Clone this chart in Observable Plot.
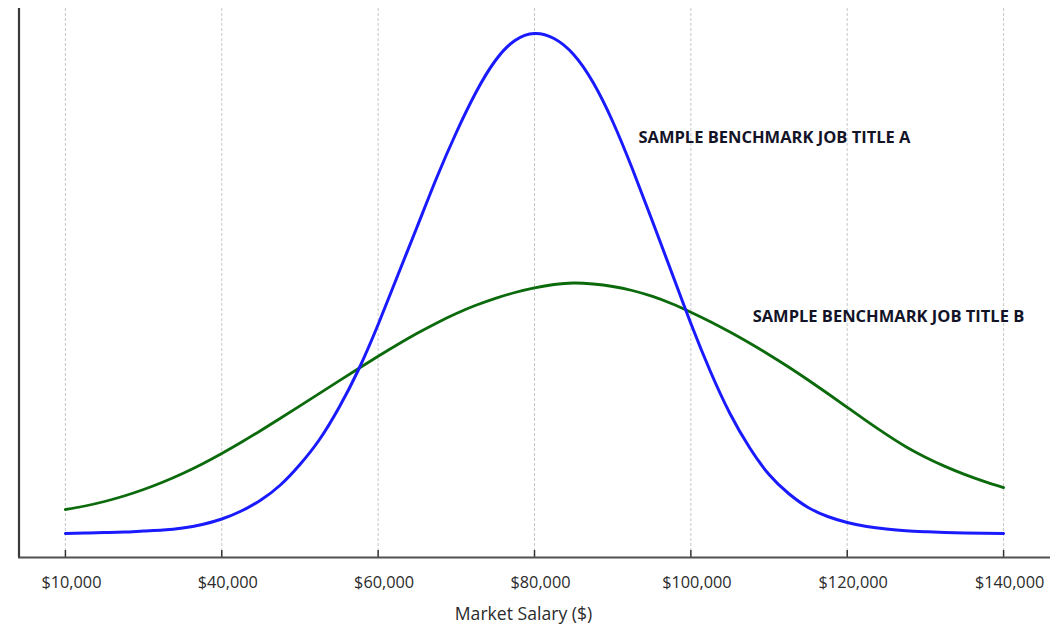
<!DOCTYPE html>
<html>
<head>
<meta charset="utf-8">
<script src="https://cdn.jsdelivr.net/npm/d3@7"></script>
<script src="https://cdn.jsdelivr.net/npm/@observablehq/plot@0.6"></script>
<style>
  html, body { margin: 0; padding: 0; background: #fff; }
  #chart { width: 1054px; height: 625px; }
</style>
</head>
<body>
<div id="chart"></div>
<script>
// x positions are tick indices (0..6); y is relative frequency (arbitrary units)
const tickIndex = [0, 1, 2, 3, 4, 5, 6];
const tickLabels = ["$10,000", "$40,000", "$60,000", "$80,000", "$100,000", "$120,000", "$140,000"];

const sampleX = [0, 0.125, 0.25, 0.375, 0.5, 0.625, 0.75, 0.875,
  1, 1.125, 1.25, 1.375, 1.5, 1.625, 1.75, 1.875,
  2, 2.125, 2.25, 2.375, 2.5, 2.625, 2.75, 2.875,
  3, 3.125, 3.25, 3.375, 3.5, 3.625, 3.75, 3.875,
  4, 4.125, 4.25, 4.375, 4.5, 4.625, 4.75, 4.875,
  5, 5.125, 5.25, 5.375, 5.5, 5.625, 5.75, 5.875, 6];

const blueY = [24, 24.5, 25, 25.5, 26.5, 27.5, 29.5, 33,
  38.5, 46.5, 57.5, 72.5, 93, 118, 150, 188,
  233, 282, 331, 380, 425, 465, 497, 517,
  524, 519, 503, 475, 436, 389, 338, 286,
  234, 186, 144, 110, 83, 64, 50, 41,
  35, 31, 28.5, 26.8, 25.8, 25, 24.5, 24.2, 24];

const greenY = [48, 51.5, 56, 61.5, 68, 75.5, 84, 93.5,
  104, 115.2, 127, 139.2, 151.6, 164.1, 176.6, 189,
  201.2, 213, 224.2, 234.6, 244, 252.2, 259.2, 265,
  269.6, 273, 274.5, 273.5, 271, 267, 261.3, 254,
  245.3, 235.8, 225.5, 214.5, 202.8, 190.5, 177.5, 164,
  150.2, 136.4, 123.1, 110.8, 100.3, 91.1, 83.1, 76.1, 69.9];

const seriesNames = ["SAMPLE BENCHMARK JOB TITLE A", "SAMPLE BENCHMARK JOB TITLE B"];
const seriesColors = ["#1a1aff", "#0b6a0b"];
const labelX = [3.665, 4.395];
const labelY = [420, 241];

const xDomain = [-0.3, 6.3];
const yDomain = [0, 549];

const blue = sampleX.map((x, i) => ({x, y: blueY[i]}));
const green = sampleX.map((x, i) => ({x, y: greenY[i]}));
const labels = seriesNames.map((name, i) => ({name, x: labelX[i], y: labelY[i]}));

const chart = Plot.plot({
  width: 1054,
  height: 625,
  marginLeft: 18,
  marginRight: 4,
  marginTop: 8,
  marginBottom: 68,
  style: {fontFamily: "'Open Sans', sans-serif", background: "#fff"},
  x: {domain: xDomain, axis: null},
  y: {domain: yDomain, axis: null},
  marks: [
    Plot.gridX(tickIndex, {stroke: "#9a9a9a", strokeOpacity: 0.55, strokeDasharray: "3,2", insetBottom: 7}),
    Plot.ruleX(tickIndex, {stroke: "#333", strokeWidth: 1.5, insetTop: 542}),
    Plot.ruleY([0], {stroke: "#505050", strokeWidth: 2.2}),
    Plot.ruleX([xDomain[0]], {stroke: "#3a3a3a", strokeWidth: 2.2, dx: 0.5}),
    Plot.text(tickIndex, {x: d => d, text: d => tickLabels[d], frameAnchor: "bottom", dy: 30, dx: 6, fontSize: 16.3, fill: "#2b2b2b"}),
    Plot.line(green, {x: "x", y: "y", stroke: seriesColors[1], strokeWidth: 2.8, curve: "natural"}),
    Plot.line(blue, {x: "x", y: "y", stroke: seriesColors[0], strokeWidth: 3, curve: "natural"}),
    Plot.text(labels, {x: "x", y: "y", text: "name", textAnchor: "start", fontSize: 16.5, fontWeight: "bold", fill: "#141428"}),
    Plot.text(["Market Salary ($)"], {frameAnchor: "bottom", dy: 62, dx: -11, fontSize: 17.6, fill: "#2b2b2b"})
  ]
});
document.getElementById("chart").appendChild(chart);
</script>
</body>
</html>
